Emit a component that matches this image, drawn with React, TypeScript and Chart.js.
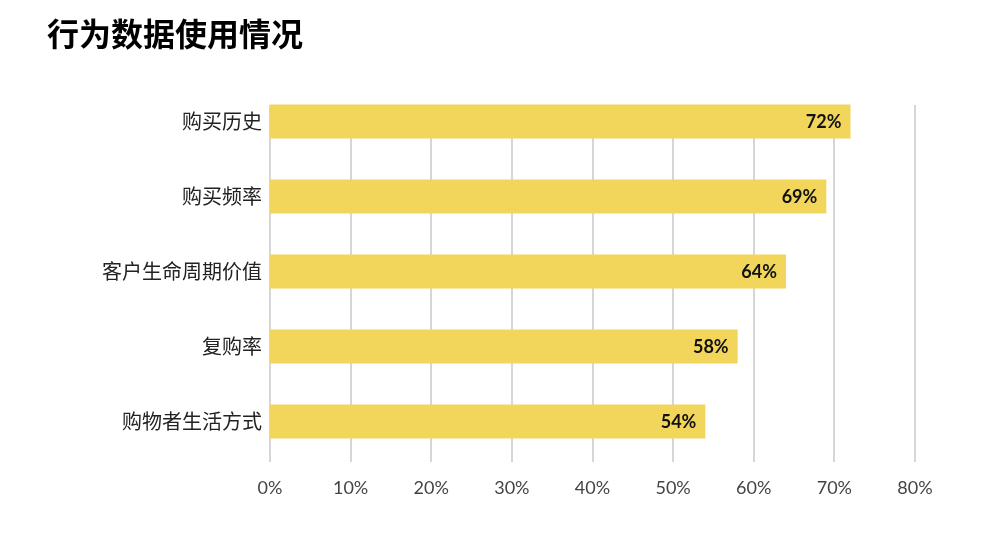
import React, { useEffect, useRef } from "react";
import { Chart, registerables } from "chart.js";

Chart.register(...registerables);

const title = "行为数据使用情况";
const categories = ["购买历史", "购买频率", "客户生命周期价值", "复购率", "购物者生活方式"];
const values = [72, 69, 64, 58, 54];
const xTicks = [0, 10, 20, 30, 40, 50, 60, 70, 80];

const barColor = "#F1D65B";
const gridColor = "#d6d6d6";

const gridPlugin = {
  id: "customGrid",
  beforeDatasetsDraw(chart: any) {
    const { ctx, chartArea, scales } = chart;
    const x = scales.x;
    ctx.save();
    ctx.strokeStyle = gridColor;
    ctx.lineWidth = 2;
    xTicks.forEach((t) => {
      const px = Math.round(x.getPixelForValue(t));
      ctx.beginPath();
      ctx.moveTo(px, chartArea.top + 21);
      ctx.lineTo(px, chartArea.bottom + 3);
      ctx.stroke();
    });
    ctx.restore();
  },
};

const labelPlugin = {
  id: "barLabels",
  afterDatasetsDraw(chart: any) {
    const { ctx } = chart;
    const meta = chart.getDatasetMeta(0);
    ctx.save();
    ctx.font = "bold 18px Lato, 'Noto Sans', sans-serif";
    ctx.fillStyle = "#111111";
    ctx.textAlign = "right";
    ctx.textBaseline = "middle";
    meta.data.forEach((el: any, i: number) => {
      ctx.fillText(values[i] + "%", el.x - 9, el.y + 1);
    });
    ctx.restore();
  },
};

export default function App() {
  const ref = useRef<HTMLCanvasElement | null>(null);
  useEffect(() => {
    if (!ref.current) return;
    const chart = new Chart(ref.current, {
      type: "bar",
      data: {
        labels: categories,
        datasets: [
          {
            data: values,
            backgroundColor: barColor,
            borderWidth: 0,
            barPercentage: 0.453,
            categoryPercentage: 1,
          },
        ],
      },
      options: {
        indexAxis: "y",
        responsive: false,
        animation: false,
        layout: { padding: { left: 47, right: 85, top: 0, bottom: 0 } },
        plugins: {
          legend: { display: false },
          tooltip: { enabled: false },
          title: {
            display: true,
            text: title,
            align: "start",
            color: "#000000",
            font: { family: "'Noto Sans CJK SC', sans-serif", size: 32, weight: "bold" },
            padding: { top: 15, bottom: 30.6 },
          },
        },
        scales: {
          x: {
            min: 0,
            max: 80,
            grid: { display: false, drawTicks: false },
            border: { display: false },
            ticks: {
              stepSize: 10,
              padding: 18,
              color: "#444444",
              font: { family: "Lato, 'Noto Sans', sans-serif", size: 18 },
              callback: (v: any) => v + "%",
            },
            afterFit: (s: any) => {
              s.height = 81;
            },
          },
          y: {
            grid: { display: false, drawTicks: false },
            border: { display: false },
            ticks: {
              padding: 8,
              color: "#222222",
              font: { family: "'Noto Sans CJK SC', sans-serif", size: 20 },
            },
            afterFit: (s: any) => {
              s.width = 223;
            },
          },
        },
      },
      plugins: [gridPlugin, labelPlugin],
    });
    return () => chart.destroy();
  }, []);
  return (
    <div style={{ position: "absolute", left: 0, top: 0, width: 1000, height: 540, background: "#ffffff" }}>
      <canvas ref={ref} width={1000} height={540} />
    </div>
  );
}
